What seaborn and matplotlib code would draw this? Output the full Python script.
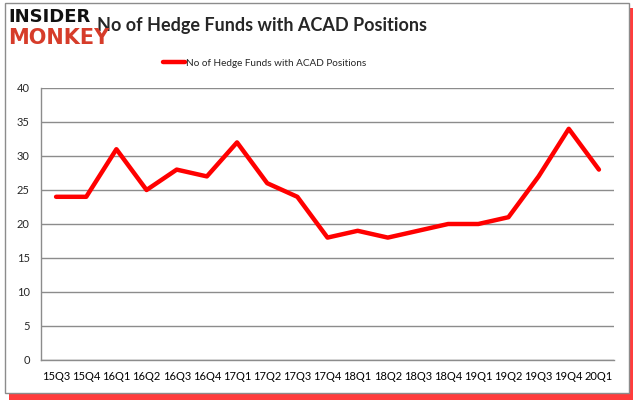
import matplotlib
matplotlib.use("Agg")
import matplotlib.pyplot as plt
import seaborn as sns
import pandas as pd
import numpy as np
from matplotlib.patches import Rectangle

quarters = ["15Q3", "15Q4", "16Q1", "16Q2", "16Q3", "16Q4", "17Q1", "17Q2", "17Q3", "17Q4",
            "18Q1", "18Q2", "18Q3", "18Q4", "19Q1", "19Q2", "19Q3", "19Q4", "20Q1"]
funds = [24, 24, 31, 25, 28, 27, 32, 26, 24, 18, 19, 18, 19, 20, 20, 21, 27, 34, 28]
serie = "No of Hedge Funds with ACAD Positions"

df = pd.DataFrame({"pos": np.arange(len(quarters)), "funds": funds})

sns.set_style("white")
plt.rcParams["font.family"] = ["Lato", "DejaVu Sans"]

fig = plt.figure(figsize=(6.35, 4.05), dpi=100)

# marco con sombra roja
fig.patches.append(Rectangle((9 / 635, 5 / 405), 624 / 635, 392 / 405, transform=fig.transFigure,
                             facecolor="#ff1a1a", edgecolor="none", alpha=0.85, zorder=0))
fig.patches.append(Rectangle((5 / 635, 12 / 405), 624 / 635, 390 / 405, transform=fig.transFigure,
                             facecolor="white", edgecolor="#8c8c8c", linewidth=1.0, zorder=1))

ax = fig.add_axes([41 / 635, 45 / 405, 573 / 635, 272 / 405])
ax.set_zorder(2)
sns.lineplot(data=df, x="pos", y="funds", color="#ff0000", linewidth=3.2, ax=ax, label=serie)

ax.set_xlim(-0.5, len(quarters) - 0.5)
ax.set_ylim(0, 40)
ax.set_yticks(range(0, 41, 5))
ax.set_xticks(np.arange(len(quarters)))
ax.set_xticklabels(quarters)
ax.set_xticks(np.arange(-0.5, len(quarters)), minor=True)
ax.tick_params(axis="x", which="major", length=0, labelsize=8, pad=8, colors="black")
ax.tick_params(axis="x", which="minor", length=4, width=1, color="#8c8c8c", direction="out")
ax.tick_params(axis="y", length=4, width=1, color="#8c8c8c", direction="out", labelsize=8, pad=4)
ax.yaxis.grid(True, color="#8c8c8c", linewidth=1)
ax.set_xlabel("")
ax.set_ylabel("")
for s in ["top", "right"]:
    ax.spines[s].set_visible(False)
for s in ["left", "bottom"]:
    ax.spines[s].set_color("#8c8c8c")
    ax.spines[s].set_linewidth(1)

ax.legend(loc="lower center", bbox_to_anchor=(0.39, 1.06), frameon=False, fontsize=7.2,
          handlelength=2.2, handletextpad=0.1, borderaxespad=0)

fig.text(97 / 635, 1 - 25 / 405, serie, fontsize=13, fontweight="bold", va="center", ha="left")
fig.text(8 / 635, 1 - 17 / 405, "INSIDER", fontsize=13, fontweight="heavy", family="DejaVu Sans",
         va="center", ha="left", color="#111111")
fig.text(8 / 635, 1 - 38 / 405, "MONKEY", fontsize=15, fontweight="heavy", family="DejaVu Sans",
         va="center", ha="left", color="#d63c2a")

fig.savefig("out.png", dpi=100)
